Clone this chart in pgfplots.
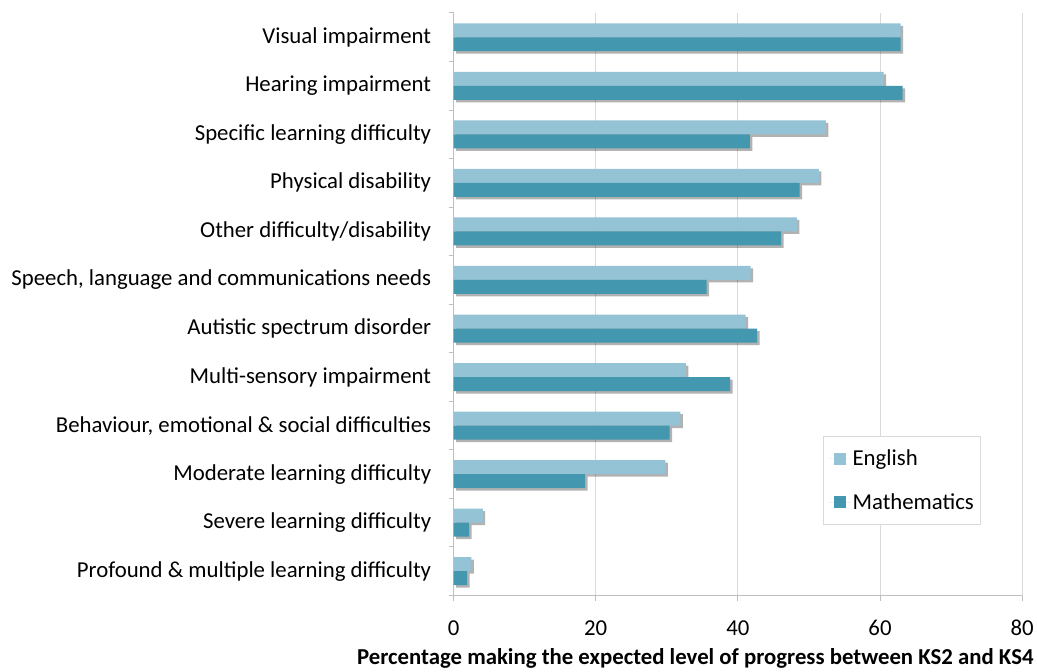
\documentclass[border=0pt]{standalone}
\usepackage{pgfplots}
\pgfplotsset{compat=1.18}
\usepackage{fontspec}
\setmainfont{Carlito}
\usetikzlibrary{shadows}
\definecolor{eng}{RGB}{147,195,212}
\definecolor{mat}{RGB}{67,151,175}
\definecolor{axgray}{RGB}{191,191,191}
\definecolor{gridgray}{RGB}{217,217,217}
\begin{document}
\begin{tikzpicture}
\begin{axis}[
  at={(0,0)}, anchor=south west,
  scale only axis, width=569bp, height=583bp,
  xbar, bar width=14bp,
  xmin=0, xmax=80, ymin=-0.5, ymax=11.5,
  y dir=reverse,
  axis x line*=bottom, axis y line*=left,
  axis line style={axgray, line width=1bp, -},
  xtick={0,20,40,60,80},
  xmajorgrids, grid style={gridgray, line width=1bp},
  ytick={0,...,11},
  yticklabels={Visual impairment, Hearing impairment, Specific learning difficulty, Physical disability, Other difficulty/disability, {Speech, language and communications needs}, Autistic spectrum disorder, Multi-sensory impairment, {Behaviour, emotional \& social difficulties}, Moderate learning difficulty, Severe learning difficulty, Profound \& multiple learning difficulty},
  minor ytick={-0.5,0.5,...,11.5},
  tick align=outside,
  major tick length=5bp, minor tick length=5bp,
  major x tick style={axgray, line width=1bp},
  major y tick style={draw=none},
  minor y tick style={axgray, line width=1bp},
  tick label style={font=\fontsize{22.8bp}{27bp}\selectfont, text=black},
  /pgf/number format/assume math mode=true,
  yticklabel style={xshift=-14bp},
  xticklabel style={anchor=base, yshift=-35bp},
  xlabel={\bfseries Percentage making the expected level of progress between KS2 and KS4},
  xlabel style={font=\fontsize{22.8bp}{27bp}\selectfont, at={(axis description cs:1,0)}, anchor=base east, xshift=15bp, yshift=-69bp},
  legend image code/.code={\fill[#1] (5bp,-6bp) rectangle (17bp,6bp); \path (0bp,0bp) -- (22bp,0bp);},
  legend style={at={(axis description cs:0.650,0.2744)}, anchor=north west, draw=gridgray, line width=1bp, font=\fontsize{22.8bp}{27bp}\selectfont, row sep=22bp, inner xsep=5bp, inner ysep=12bp},
  legend cell align=left,
]
\addlegendimage{fill=eng, draw=none}
\addlegendentry{English}
\addlegendimage{fill=mat, draw=none}
\addlegendentry{Mathematics}
\addplot[forget plot, bar shift=7bp, fill=eng, draw=none, drop shadow={shadow xshift=2.5bp, shadow yshift=-2.5bp, fill=black, opacity=0.3}] coordinates {
(62.9,0) (60.5,1) (52.4,2) (51.4,3) (48.3,4) (41.8,5) (41.1,6) (32.7,7) (31.9,8) (29.8,9) (4.1,10) (2.5,11)};
\addplot[forget plot, bar shift=-7bp, fill=mat, draw=none, drop shadow={shadow xshift=2.5bp, shadow yshift=-2.5bp, fill=black, opacity=0.3}] coordinates {
(62.9,0) (63.2,1) (41.7,2) (48.7,3) (46.1,4) (35.6,5) (42.7,6) (38.9,7) (30.4,8) (18.5,9) (2.2,10) (1.9,11)};
\end{axis}
\path[use as bounding box] (-454bp,-72bp) rectangle (583bp,596bp);
\end{tikzpicture}
\end{document}
